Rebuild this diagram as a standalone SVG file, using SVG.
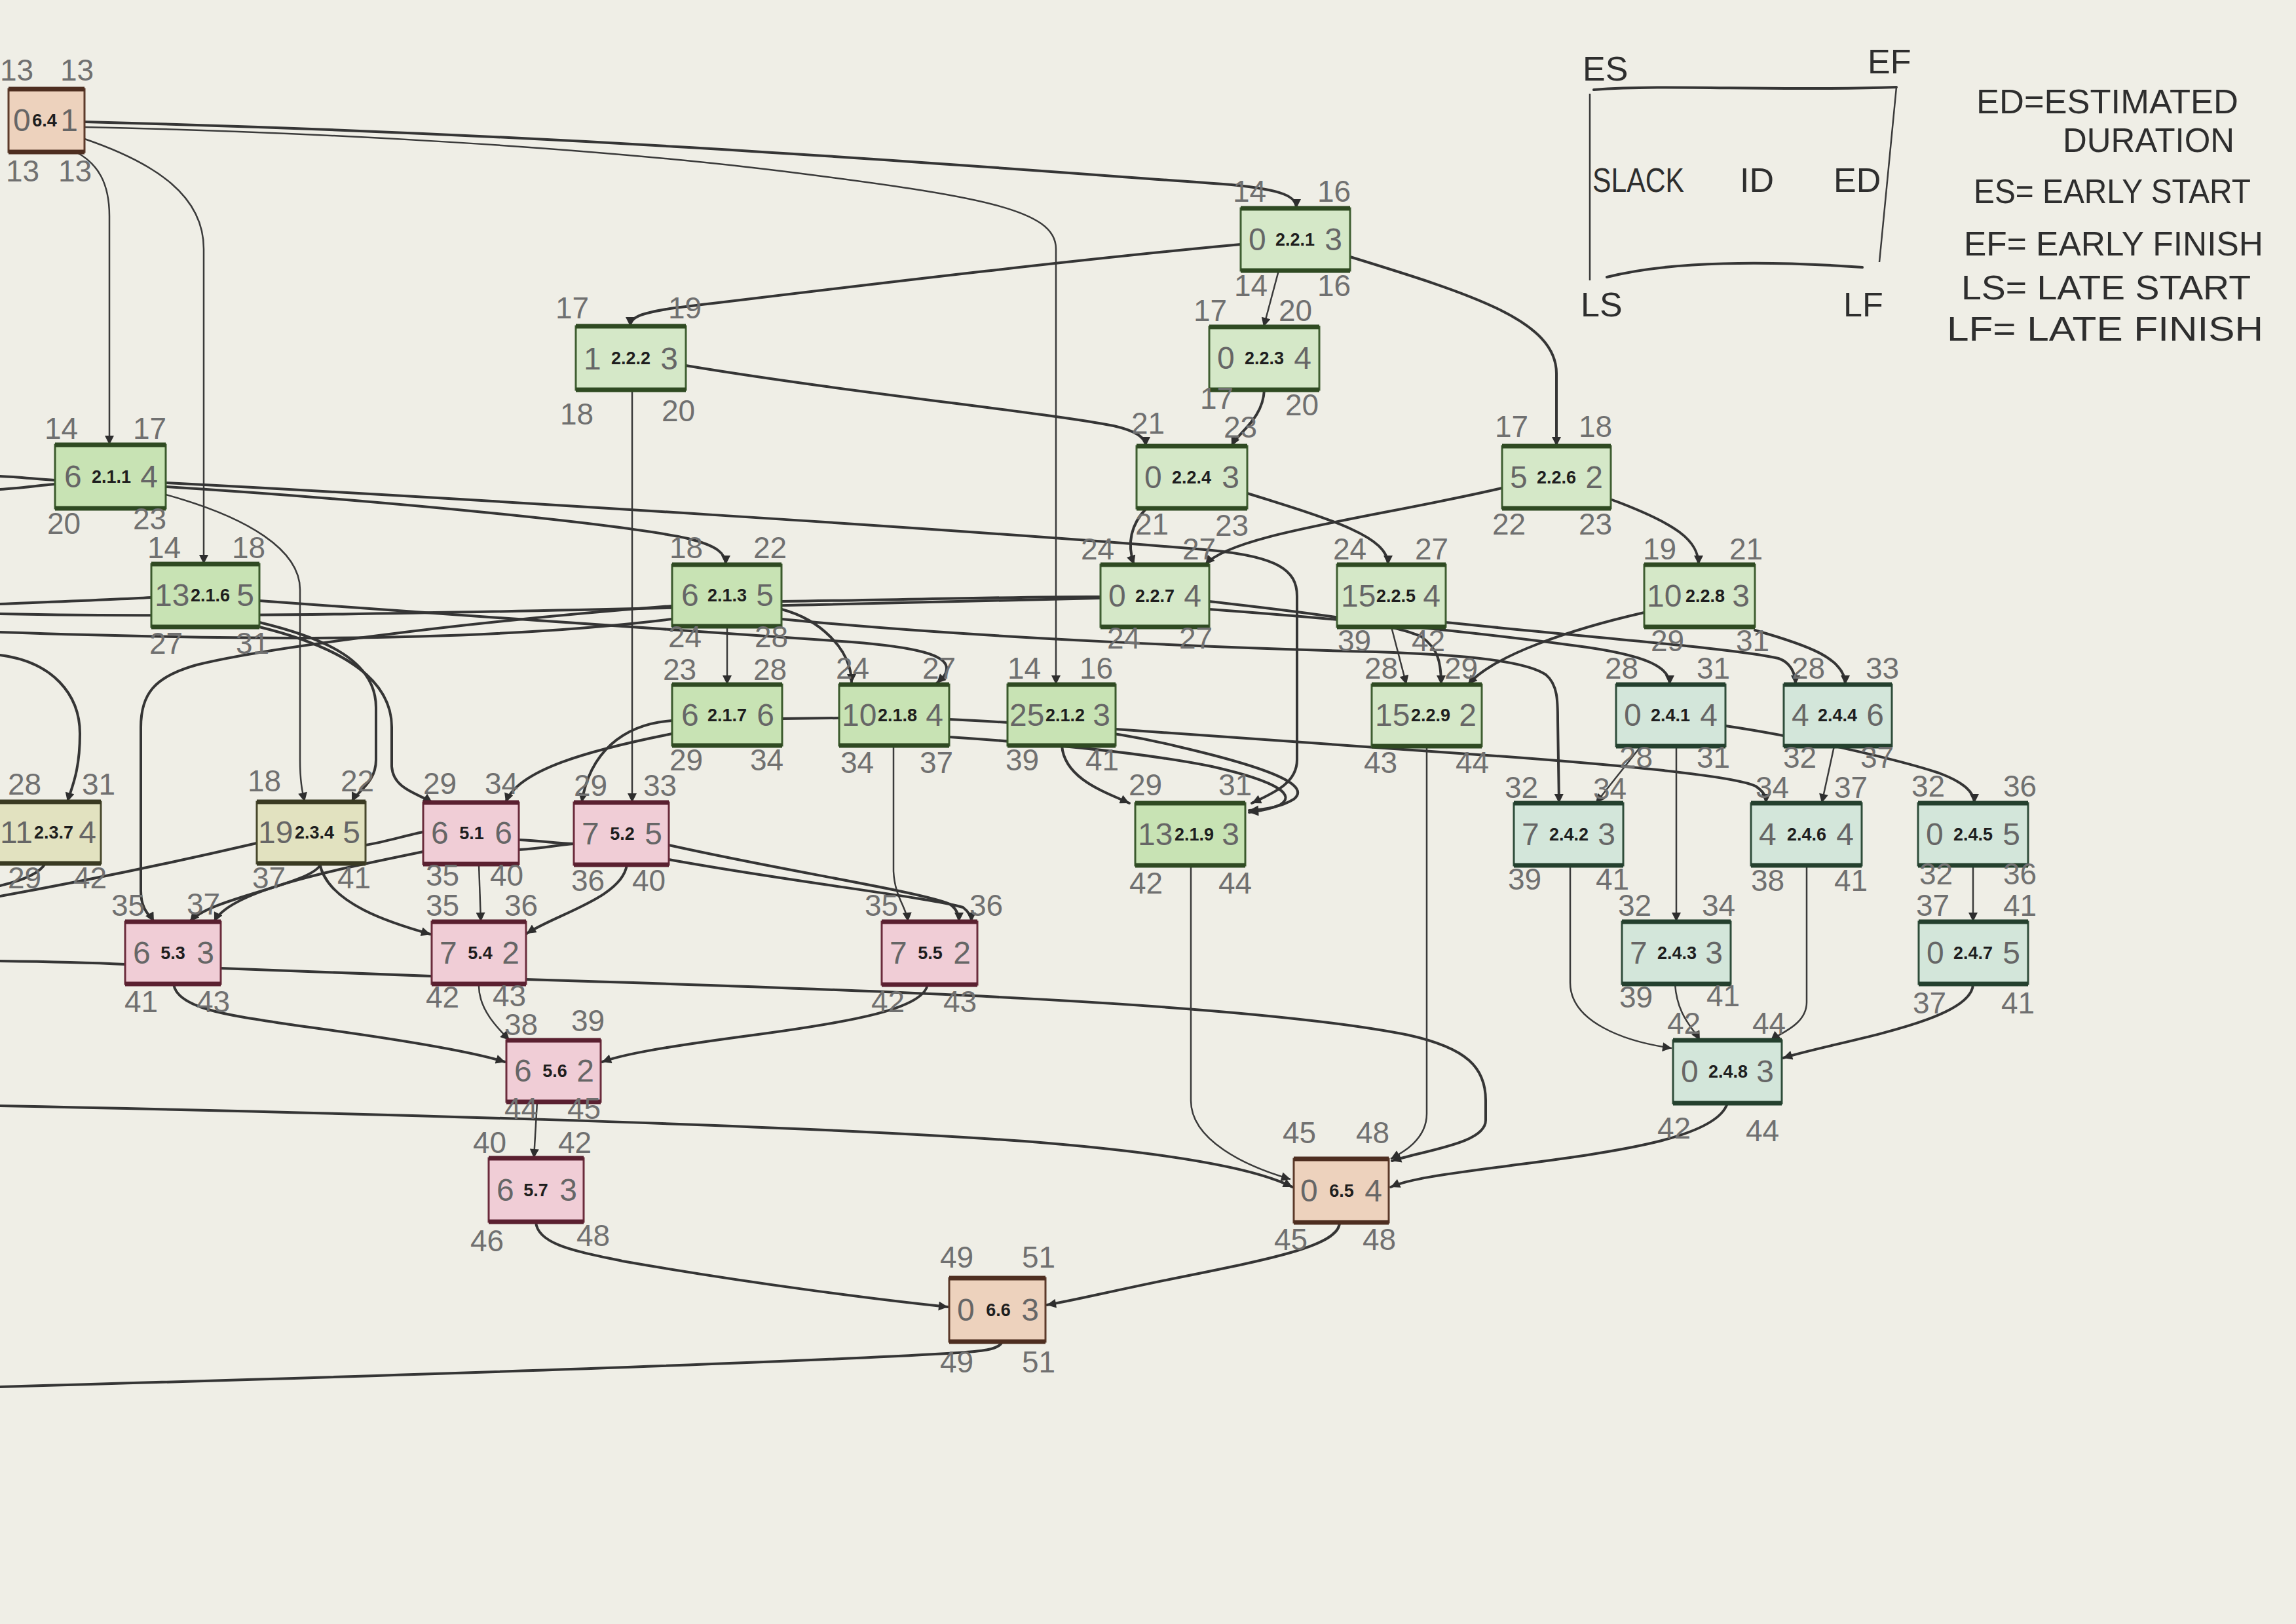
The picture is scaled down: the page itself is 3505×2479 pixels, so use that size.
<svg xmlns="http://www.w3.org/2000/svg" width="3505" height="2479" viewBox="0 0 3505 2479">
<defs>
<marker id="ah" viewBox="0 0 10 10" refX="10" refY="5" markerWidth="16" markerHeight="14" markerUnits="userSpaceOnUse" orient="auto"><path d="M0,0 L10,5 L0,10 z" fill="#2e2e2e"/></marker>
<style>
.c{fill:none;stroke:#353535;stroke-width:4;stroke-linecap:round}
.t{fill:none;stroke:#3a3a3a;stroke-width:2.5}
.hw{font-family:"Liberation Sans Narrow","Liberation Sans",sans-serif;font-size:46px;fill:#707070}
.in{font-family:"Liberation Sans Narrow","Liberation Sans",sans-serif;font-size:48px;fill:#666666}
.id{font-family:"Liberation Sans",Arial,sans-serif;font-size:27px;font-weight:bold;fill:#1e1e1e;text-anchor:middle}
.end{text-anchor:end}
.lg{font-family:"Liberation Sans Narrow","Liberation Sans",sans-serif;font-size:52px;fill:#2e2e2e}
.g21 rect{fill:#c8e3b4;stroke:#3b5a2c;stroke-width:3}
.g22 rect{fill:#d5e8c8;stroke:#3f5e31;stroke-width:3}
.g23 rect{fill:#e2e2c0;stroke:#48482c;stroke-width:3}
.g24 rect{fill:#d3e6da;stroke:#2f4d3a;stroke-width:3}
.g5 rect{fill:#f0cdd6;stroke:#6b2c3c;stroke-width:3}
.g6 rect{fill:#edd2bd;stroke:#5c3a2a;stroke-width:3}
.g21 path.b,.g22 path.b{stroke:#2f4a22;stroke-width:7;fill:none}
.g23 path.b{stroke:#3a3a22;stroke-width:7;fill:none}
.g24 path.b{stroke:#24402e;stroke-width:7;fill:none}
.g5 path.b{stroke:#5a2030;stroke-width:7;fill:none}
.g6 path.b{stroke:#4e2e20;stroke-width:7;fill:none}
</style>
</defs>
<rect x="0" y="0" width="3505" height="2479" fill="#efeee6"/>

<g id="legend">
<path d="M2433,137 C2550,128 2700,140 2895,133" class="c" stroke-width="5"/>
<path d="M2427,143 L2427,428" class="t" stroke-width="3.5"/>
<path d="M2895,133 L2869,400" class="t" stroke-width="3.5"/>
<path d="M2453,423 C2550,398 2700,398 2843,408" class="c" stroke-width="5"/>
<text class="lg" x="2416" y="123">ES</text>
<text class="lg" x="2851" y="112">EF</text>
<text class="lg" x="2431" y="293" textLength="140" lengthAdjust="spacingAndGlyphs">SLACK</text>
<text class="lg" x="2656" y="293">ID</text>
<text class="lg" x="2799" y="293">ED</text>
<text class="lg" x="2413" y="483">LS</text>
<text class="lg" x="2814" y="483">LF</text>
<text class="lg" x="3017" y="173" textLength="400" lengthAdjust="spacingAndGlyphs">ED=ESTIMATED</text>
<text class="lg" x="3149" y="232" textLength="262" lengthAdjust="spacingAndGlyphs">DURATION</text>
<text class="lg" x="3013" y="310" textLength="423" lengthAdjust="spacingAndGlyphs">ES= EARLY START</text>
<text class="lg" x="2998" y="390" textLength="457" lengthAdjust="spacingAndGlyphs">EF= EARLY FINISH</text>
<text class="lg" x="2994" y="457" textLength="442" lengthAdjust="spacingAndGlyphs">LS= LATE START</text>
<text class="lg" x="2972" y="520" textLength="483" lengthAdjust="spacingAndGlyphs">LF= LATE FINISH</text>
</g>

<g id="connectors">
<path class="c" marker-end="url(#ah)" d="M129,186 C900,205 1500,255 1880,282 C1960,290 1979,300 1979,318"/>
<path class="t" marker-end="url(#ah)" d="M129,194 C500,202 900,225 1200,262 C1500,300 1612,320 1612,380 L1612,1045"/>
<path class="t" marker-end="url(#ah)" d="M116,232 C150,250 167,280 167,330 L167,679"/>
<path class="t" marker-end="url(#ah)" d="M129,212 C240,250 311,300 311,380 L311,861"/>
<path class="c" marker-end="url(#ah)" d="M1894,373 C1600,400 1200,450 1030,470 C975,478 962,485 962,498"/>
<path class="t" marker-end="url(#ah)" d="M1952,413 L1929,499"/>
<path class="c" marker-end="url(#ah)" d="M2061,392 C2250,450 2376,490 2376,570 L2376,681"/>
<path class="c" marker-end="url(#ah)" d="M1047,558 C1300,600 1600,630 1700,650 C1735,658 1749,668 1749,681"/>
<path class="t" marker-end="url(#ah)" d="M965,595 L965,1225"/>
<path class="c" marker-end="url(#ah)" d="M1930,595 C1928,640 1890,660 1880,681"/>
<path class="c" marker-end="url(#ah)" d="M1750,776 C1722,805 1722,835 1731,862"/>
<path class="c" marker-end="url(#ah)" d="M1904,753 C2040,795 2119,820 2119,862"/>
<path class="c" marker-end="url(#ah)" d="M2293,745 C2100,790 1880,815 1840,862"/>
<path class="c" marker-end="url(#ah)" d="M2461,763 C2560,800 2593,825 2593,862"/>
<path class="c" marker-end="url(#ah)" d="M1846,918 C1950,930 2120,948 2170,972 C2195,990 2200,1010 2200,1045"/>
<path class="c" marker-end="url(#ah)" d="M1846,930 C2050,945 2250,965 2400,985 C2520,1000 2549,1020 2549,1045"/>
<path class="c" marker-end="url(#ah)" d="M2207,950 C2450,975 2650,990 2715,1005 C2735,1012 2741,1030 2741,1045"/>
<path class="t" marker-end="url(#ah)" d="M2124,957 L2147,1045"/>
<path class="c" marker-end="url(#ah)" d="M2510,935 C2400,960 2280,1000 2241,1045"/>
<path class="c" marker-end="url(#ah)" d="M2679,962 C2760,985 2817,1005 2817,1045"/>
<path class="c" marker-end="url(#ah)" d="M253,743 C600,765 950,800 1050,822 C1095,833 1108,845 1108,862"/>
<path class="c" marker-end="url(#ah)" d="M253,737 C700,760 1500,810 1850,840 C1950,850 1980,870 1980,910 L1980,1160 C1980,1195 1945,1210 1911,1226"/>
<path class="t" marker-end="url(#ah)" d="M253,755 C380,790 458,840 458,900 L458,1160 C458,1195 462,1210 465,1224"/>
<path class="t" marker-end="url(#ah)" d="M1110,956 L1110,1045"/>
<path class="c" marker-end="url(#ah)" d="M1193,930 C1250,945 1300,990 1300,1043"/>
<path class="c" d="M1194,1097 L1281,1096"/>
<path class="c" marker-end="url(#ah)" d="M1026,1120 C900,1145 790,1175 772,1225"/>
<path class="c" marker-end="url(#ah)" d="M1026,1100 C950,1105 900,1150 888,1225"/>
<path class="t" marker-end="url(#ah)" d="M1364,1138 L1364,1330 C1366,1370 1384,1385 1386,1407"/>
<path class="c" marker-end="url(#ah)" d="M1449,1098 C1600,1105 1700,1115 1800,1140 C1950,1175 2000,1200 1975,1220 C1955,1232 1930,1236 1907,1237"/>
<path class="c" marker-end="url(#ah)" d="M1449,1125 C1600,1135 1750,1150 1850,1170 C1960,1195 1975,1215 1955,1228 C1940,1235 1925,1238 1907,1240"/>
<path class="c" marker-end="url(#ah)" d="M1621,1138 C1625,1190 1690,1210 1724,1226"/>
<path class="c" marker-end="url(#ah)" d="M1703,1113 C1900,1125 2100,1140 2300,1155 C2500,1170 2650,1185 2680,1200 C2692,1208 2696,1215 2696,1226"/>
<path class="c" marker-end="url(#ah)" d="M1193,945 C1500,975 1900,990 2100,995 C2250,1000 2330,1010 2360,1030 C2378,1045 2378,1070 2378,1100 L2380,1226"/>
<path class="c" marker-end="url(#ah)" d="M396,917 C700,940 1100,965 1300,980 C1400,988 1445,1000 1445,1020 C1445,1032 1435,1038 1430,1043"/>
<path class="c" marker-end="url(#ah)" d="M396,950 C500,975 574,1010 574,1080 L574,1160 C574,1195 545,1208 537,1224"/>
<path class="c" marker-end="url(#ah)" d="M396,957 C530,990 598,1040 598,1110 L598,1170 C600,1205 640,1212 660,1225"/>
<path class="c" marker-end="url(#ah)" d="M1026,925 C700,950 400,990 300,1015 C235,1033 215,1060 215,1110 L215,1360 C215,1390 230,1398 235,1407"/>
<path class="c" d="M1193,918 C1400,915 1600,910 1680,911"/>
<path class="c" d="M0,937 C400,945 900,930 1250,923 C1450,918 1600,914 1680,913"/>
<path class="c" d="M0,965 C300,975 700,985 1026,945"/>
<path class="c" marker-end="url(#ah)" d="M490,1318 C480,1350 320,1370 290,1407"/>
<path class="c" marker-end="url(#ah)" d="M646,1300 C500,1330 350,1360 327,1407"/>
<path class="c" marker-end="url(#ah)" d="M488,1318 C500,1380 600,1410 657,1426"/>
<path class="t" marker-end="url(#ah)" d="M731,1319 L734,1407"/>
<path class="c" marker-end="url(#ah)" d="M957,1320 C950,1370 850,1395 804,1425"/>
<path class="c" d="M792,1282 C830,1284 850,1287 876,1288"/>
<path class="c" d="M792,1297 C830,1295 850,1290 876,1288"/>
<path class="c" marker-end="url(#ah)" d="M1021,1290 C1200,1330 1400,1360 1450,1380 Q1464,1390 1464,1407"/>
<path class="c" marker-end="url(#ah)" d="M1021,1312 C1200,1345 1420,1370 1470,1385 Q1483,1395 1483,1407"/>
<path class="c" marker-end="url(#ah)" d="M337,1478 C500,1485 650,1490 803,1495 C1300,1510 1900,1530 2150,1580 C2240,1600 2268,1630 2268,1680 L2268,1710 C2268,1745 2180,1755 2125,1772"/>
<path class="t" marker-end="url(#ah)" d="M1818,1321 L1818,1680 C1818,1740 1900,1780 1970,1800"/>
<path class="t" marker-end="url(#ah)" d="M2178,1139 L2178,1700 C2178,1740 2140,1760 2123,1769"/>
<path class="c" marker-end="url(#ah)" d="M0,1688 C600,1700 1300,1720 1600,1745 C1800,1762 1920,1785 1973,1812"/>
<path class="c" marker-end="url(#ah)" d="M2637,1684 C2620,1740 2450,1760 2300,1780 C2200,1793 2150,1800 2123,1812"/>
<path class="c" marker-end="url(#ah)" d="M2045,1866 C2045,1900 1950,1920 1800,1950 C1700,1970 1640,1985 1598,1992"/>
<path class="c" marker-end="url(#ah)" d="M818,1865 C820,1900 880,1910 950,1925 C1150,1960 1350,1985 1447,1995"/>
<path class="c" d="M1530,2048 C1525,2062 1490,2063 1446,2066 C1200,2080 600,2100 0,2117"/>
<path class="c" marker-end="url(#ah)" d="M265,1502 C270,1540 350,1550 450,1565 C600,1585 720,1605 771,1621"/>
<path class="t" marker-end="url(#ah)" d="M731,1503 C730,1540 760,1570 778,1588"/>
<path class="c" marker-end="url(#ah)" d="M1416,1503 C1410,1540 1300,1560 1150,1580 C1000,1600 950,1610 919,1621"/>
<path class="t" marker-end="url(#ah)" d="M820,1682 L815,1768"/>
<path class="c" d="M0,1467 C80,1468 150,1470 191,1472"/>
<path class="c" d="M0,727 C30,728 60,732 84,733"/>
<path class="c" d="M0,747 C30,745 60,741 84,739"/>
<path class="c" d="M0,922 C100,918 180,915 231,912"/>
<path class="c" d="M69,1318 C60,1335 30,1345 0,1352"/>
<path class="c" d="M392,1287 C250,1320 100,1350 0,1368"/>
<path class="c" marker-end="url(#ah)" d="M0,1000 C80,1010 122,1060 122,1120 C122,1180 108,1205 103,1224"/>
<path class="c" d="M558,1290 C590,1285 620,1275 646,1270"/>
<path class="t" marker-end="url(#ah)" d="M2505,1139 L2436,1226"/>
<path class="t" marker-end="url(#ah)" d="M2559,1139 L2559,1407"/>
<path class="c" marker-end="url(#ah)" d="M2634,1108 C2750,1125 2900,1160 2960,1180 C3000,1195 3014,1210 3014,1226"/>
<path class="t" marker-end="url(#ah)" d="M2800,1139 L2781,1226"/>
<path class="t" marker-end="url(#ah)" d="M2397,1321 L2397,1500 C2397,1560 2480,1590 2552,1600"/>
<path class="t" marker-end="url(#ah)" d="M2557,1502 C2560,1550 2585,1570 2595,1588"/>
<path class="t" marker-end="url(#ah)" d="M2758,1321 L2758,1530 C2758,1565 2715,1578 2703,1588"/>
<path class="t" marker-end="url(#ah)" d="M3012,1321 L3012,1407"/>
<path class="c" marker-end="url(#ah)" d="M3012,1502 C3012,1560 2800,1590 2722,1615"/>
</g>

<g id="n-6-4" class="g6"><rect x="13" y="136" width="116" height="96"/><path class="b" d="M13,136 H129 M13,232 H129"/>
<text class="in" x="20" y="200">0</text><text class="id" x="68" y="193">6.4</text><text class="in end" x="119" y="200">1</text>
<text class="hw" x="0" y="123">13</text><text class="hw" x="92" y="123">13</text><text class="hw" x="9" y="277">13</text><text class="hw" x="89" y="277">13</text></g>

<g id="n-2-2-1" class="g22"><rect x="1894" y="318" width="167" height="95"/><path class="b" d="M1894,318 H2061 M1894,413 H2061"/>
<text class="in" x="1906" y="382">0</text><text class="id" x="1977" y="375">2.2.1</text><text class="in end" x="2049" y="382">3</text>
<text class="hw" x="1882" y="308">14</text><text class="hw" x="2011" y="308">16</text><text class="hw" x="1884" y="452">14</text><text class="hw" x="2011" y="452">16</text></g>

<g id="n-2-2-2" class="g22"><rect x="879" y="498" width="168" height="97"/><path class="b" d="M879,498 H1047 M879,595 H1047"/>
<text class="in" x="891" y="564" font-size="54">1</text><text class="id" x="963" y="556">2.2.2</text><text class="in end" x="1035" y="564">3</text>
<text class="hw" x="848" y="486" font-size="60">17</text><text class="hw" x="1020" y="486" font-size="60">19</text><text class="hw" x="855" y="648" font-size="58">18</text><text class="hw" x="1010" y="643" font-size="58">20</text></g>

<g id="n-2-2-3" class="g22"><rect x="1846" y="499" width="168" height="96"/><path class="b" d="M1846,499 H2014 M1846,595 H2014"/>
<text class="in" x="1858" y="563">0</text><text class="id" x="1930" y="556">2.2.3</text><text class="in end" x="2002" y="563">4</text>
<text class="hw" x="1822" y="490">17</text><text class="hw" x="1952" y="490">20</text><text class="hw" x="1832" y="624" font-size="32">17</text><text class="hw" x="1962" y="634">20</text></g>

<g id="n-2-2-4" class="g22"><rect x="1735" y="681" width="169" height="95"/><path class="b" d="M1735,681 H1904 M1735,776 H1904"/>
<text class="in" x="1747" y="745">0</text><text class="id" x="1819" y="738">2.2.4</text><text class="in end" x="1892" y="745">3</text>
<text class="hw" x="1727" y="662">21</text><text class="hw" x="1868" y="668">23</text><text class="hw" x="1733" y="816">21</text><text class="hw" x="1855" y="818">23</text></g>

<g id="n-2-2-6" class="g22"><rect x="2293" y="681" width="166" height="95"/><path class="b" d="M2293,681 H2459 M2293,776 H2459"/>
<text class="in" x="2305" y="745">5</text><text class="id" x="2376" y="738">2.2.6</text><text class="in end" x="2447" y="745">2</text>
<text class="hw" x="2282" y="667">17</text><text class="hw" x="2410" y="667">18</text><text class="hw" x="2278" y="816">22</text><text class="hw" x="2410" y="816">23</text></g>

<g id="n-2-2-7" class="g22"><rect x="1680" y="862" width="166" height="95"/><path class="b" d="M1680,862 H1846 M1680,957 H1846"/>
<text class="in" x="1692" y="926">0</text><text class="id" x="1763" y="919">2.2.7</text><text class="in end" x="1834" y="926">4</text>
<text class="hw" x="1650" y="854">24</text><text class="hw" x="1805" y="854">27</text><text class="hw" x="1690" y="990" font-size="40">24</text><text class="hw" x="1800" y="990" font-size="40">27</text></g>

<g id="n-2-2-5" class="g22"><rect x="2041" y="862" width="166" height="95"/><path class="b" d="M2041,862 H2207 M2041,957 H2207"/>
<text class="in" x="2047" y="926">15</text><text class="id" x="2131" y="919">2.2.5</text><text class="in end" x="2199" y="926">4</text>
<text class="hw" x="2035" y="854">24</text><text class="hw" x="2160" y="854">27</text><text class="hw" x="2042" y="994">39</text><text class="hw" x="2155" y="994">42</text></g>

<g id="n-2-2-8" class="g22"><rect x="2510" y="862" width="169" height="95"/><path class="b" d="M2510,862 H2679 M2510,957 H2679"/>
<text class="in" x="2514" y="926">10</text><text class="id" x="2603" y="919">2.2.8</text><text class="in end" x="2671" y="926">3</text>
<text class="hw" x="2508" y="854">19</text><text class="hw" x="2640" y="854">21</text><text class="hw" x="2520" y="994">29</text><text class="hw" x="2650" y="994">31</text></g>

<g id="n-2-2-9" class="g22"><rect x="2094" y="1045" width="168" height="94"/><path class="b" d="M2094,1045 H2262 M2094,1139 H2262"/>
<text class="in" x="2099" y="1108">15</text><text class="id" x="2184" y="1101">2.2.9</text><text class="in end" x="2254" y="1108">2</text>
<text class="hw" x="2083" y="1036">28</text><text class="hw" x="2205" y="1036">29</text><text class="hw" x="2082" y="1180">43</text><text class="hw" x="2222" y="1180">44</text></g>

<g id="n-2-1-1" class="g21"><rect x="84" y="679" width="169" height="97"/><path class="b" d="M84,679 H253 M84,776 H253"/>
<text class="in" x="98" y="744">6</text><text class="id" x="170" y="737">2.1.1</text><text class="in end" x="241" y="744">4</text>
<text class="hw" x="68" y="670">14</text><text class="hw" x="203" y="670">17</text><text class="hw" x="72" y="815">20</text><text class="hw" x="203" y="808">23</text></g>

<g id="n-2-1-6" class="g21"><rect x="231" y="861" width="165" height="96"/><path class="b" d="M231,861 H396 M231,957 H396"/>
<text class="in" x="236" y="925">13</text><text class="id" x="321" y="918">2.1.6</text><text class="in end" x="388" y="925">5</text>
<text class="hw" x="225" y="852">14</text><text class="hw" x="354" y="852">18</text><text class="hw" x="228" y="998">27</text><text class="hw" x="360" y="998">31</text></g>

<g id="n-2-1-3" class="g21"><rect x="1026" y="862" width="167" height="94"/><path class="b" d="M1026,862 H1193 M1026,956 H1193"/>
<text class="in" x="1040" y="925">6</text><text class="id" x="1110" y="918">2.1.3</text><text class="in end" x="1181" y="925">5</text>
<text class="hw" x="1020" y="988" font-size="38">24</text><text class="hw" x="1152" y="988" font-size="38">28</text><text class="hw" x="1022" y="852">18</text><text class="hw" x="1150" y="852">22</text></g>

<g id="n-2-1-7" class="g21"><rect x="1026" y="1045" width="168" height="93"/><path class="b" d="M1026,1045 H1194 M1026,1138 H1194"/>
<text class="in" x="1040" y="1108">6</text><text class="id" x="1110" y="1101">2.1.7</text><text class="in end" x="1182" y="1108">6</text>
<text class="hw" x="1012" y="1038" font-size="40">23</text><text class="hw" x="1150" y="1038" font-size="40">28</text><text class="hw" x="1022" y="1176">29</text><text class="hw" x="1145" y="1176">34</text></g>

<g id="n-2-1-8" class="g21"><rect x="1281" y="1045" width="168" height="93"/><path class="b" d="M1281,1045 H1449 M1281,1138 H1449"/>
<text class="in" x="1285" y="1108">10</text><text class="id" x="1370" y="1101">2.1.8</text><text class="in end" x="1440" y="1108">4</text>
<text class="hw" x="1276" y="1036">24</text><text class="hw" x="1408" y="1036">27</text><text class="hw" x="1283" y="1180">34</text><text class="hw" x="1404" y="1180">37</text></g>

<g id="n-2-1-2" class="g21"><rect x="1538" y="1045" width="165" height="93"/><path class="b" d="M1538,1045 H1703 M1538,1138 H1703"/>
<text class="in" x="1541" y="1108">25</text><text class="id" x="1626" y="1101">2.1.2</text><text class="in end" x="1695" y="1108">3</text>
<text class="hw" x="1538" y="1036" font-size="42">14</text><text class="hw" x="1648" y="1036" font-size="42">16</text><text class="hw" x="1535" y="1176">39</text><text class="hw" x="1657" y="1176">41</text></g>

<g id="n-2-1-9" class="g21"><rect x="1733" y="1226" width="168" height="95"/><path class="b" d="M1733,1226 H1901 M1733,1321 H1901"/>
<text class="in" x="1737" y="1290">13</text><text class="id" x="1823" y="1283">2.1.9</text><text class="in end" x="1892" y="1290">3</text>
<text class="hw" x="1723" y="1214">29</text><text class="hw" x="1860" y="1214">31</text><text class="hw" x="1724" y="1364">42</text><text class="hw" x="1860" y="1364">44</text></g>

<g id="n-2-3-7" class="g23"><rect x="-13" y="1224" width="167" height="94"/><path class="b" d="M-13,1224 H154 M-13,1318 H154"/>
<text class="in" x="0" y="1287" font-size="42">11</text><text class="id" x="82" y="1280">2.3.7</text><text class="in end" x="147" y="1287">4</text>
<text class="hw" x="12" y="1213">28</text><text class="hw" x="125" y="1213">31</text><text class="hw" x="12" y="1356">29</text><text class="hw" x="112" y="1356">42</text></g>

<g id="n-2-3-4" class="g23"><rect x="392" y="1224" width="166" height="94"/><path class="b" d="M392,1224 H558 M392,1318 H558"/>
<text class="in" x="394" y="1287">19</text><text class="id" x="480" y="1280">2.3.4</text><text class="in end" x="550" y="1287">5</text>
<text class="hw" x="378" y="1208">18</text><text class="hw" x="520" y="1208">22</text><text class="hw" x="385" y="1356">37</text><text class="hw" x="515" y="1356">41</text></g>

<g id="n-2-4-1" class="g24"><rect x="2467" y="1045" width="167" height="94"/><path class="b" d="M2467,1045 H2634 M2467,1139 H2634"/>
<text class="in" x="2479" y="1108">0</text><text class="id" x="2550" y="1101">2.4.1</text><text class="in end" x="2622" y="1108">4</text>
<text class="hw" x="2450" y="1036">28</text><text class="hw" x="2590" y="1036">31</text><text class="hw" x="2472" y="1172" font-size="40">28</text><text class="hw" x="2590" y="1172" font-size="40">31</text></g>

<g id="n-2-4-4" class="g24"><rect x="2723" y="1045" width="165" height="94"/><path class="b" d="M2723,1045 H2888 M2723,1139 H2888"/>
<text class="in" x="2735" y="1108">4</text><text class="id" x="2805" y="1101">2.4.4</text><text class="in end" x="2876" y="1108">6</text>
<text class="hw" x="2735" y="1036">28</text><text class="hw" x="2848" y="1036">33</text><text class="hw" x="2722" y="1172" font-size="40">32</text><text class="hw" x="2840" y="1172" font-size="40">37</text></g>

<g id="n-2-4-2" class="g24"><rect x="2311" y="1226" width="167" height="95"/><path class="b" d="M2311,1226 H2478 M2311,1321 H2478"/>
<text class="in" x="2323" y="1290">7</text><text class="id" x="2395" y="1283">2.4.2</text><text class="in end" x="2466" y="1290">3</text>
<text class="hw" x="2297" y="1218">32</text><text class="hw" x="2432" y="1220">34</text><text class="hw" x="2302" y="1358">39</text><text class="hw" x="2436" y="1358">41</text></g>

<g id="n-2-4-6" class="g24"><rect x="2673" y="1226" width="169" height="95"/><path class="b" d="M2673,1226 H2842 M2673,1321 H2842"/>
<text class="in" x="2685" y="1290">4</text><text class="id" x="2758" y="1283">2.4.6</text><text class="in end" x="2830" y="1290">4</text>
<text class="hw" x="2680" y="1218">34</text><text class="hw" x="2800" y="1218">37</text><text class="hw" x="2673" y="1360">38</text><text class="hw" x="2800" y="1360">41</text></g>

<g id="n-2-4-5" class="g24"><rect x="2928" y="1226" width="168" height="95"/><path class="b" d="M2928,1226 H3096 M2928,1321 H3096"/>
<text class="in" x="2940" y="1290">0</text><text class="id" x="3012" y="1283">2.4.5</text><text class="in end" x="3084" y="1290">5</text>
<text class="hw" x="2918" y="1216">32</text><text class="hw" x="3058" y="1216">36</text><text class="hw" x="2930" y="1350" font-size="32">32</text><text class="hw" x="3058" y="1350" font-size="32">36</text></g>

<g id="n-2-4-3" class="g24"><rect x="2476" y="1407" width="166" height="95"/><path class="b" d="M2476,1407 H2642 M2476,1502 H2642"/>
<text class="in" x="2488" y="1471">7</text><text class="id" x="2560" y="1464">2.4.3</text><text class="in end" x="2630" y="1471">3</text>
<text class="hw" x="2470" y="1398">32</text><text class="hw" x="2598" y="1398">34</text><text class="hw" x="2472" y="1538">39</text><text class="hw" x="2605" y="1536">41</text></g>

<g id="n-2-4-7" class="g24"><rect x="2929" y="1407" width="167" height="95"/><path class="b" d="M2929,1407 H3096 M2929,1502 H3096"/>
<text class="in" x="2941" y="1471">0</text><text class="id" x="3012" y="1464">2.4.7</text><text class="in end" x="3084" y="1471">5</text>
<text class="hw" x="2925" y="1398">37</text><text class="hw" x="3058" y="1398">41</text><text class="hw" x="2920" y="1547">37</text><text class="hw" x="3055" y="1547">41</text></g>

<g id="n-2-4-8" class="g24"><rect x="2554" y="1588" width="166" height="96"/><path class="b" d="M2554,1588 H2720 M2554,1684 H2720"/>
<text class="in" x="2566" y="1652">0</text><text class="id" x="2638" y="1645">2.4.8</text><text class="in end" x="2708" y="1652">3</text>
<text class="hw" x="2545" y="1578">42</text><text class="hw" x="2675" y="1578">44</text><text class="hw" x="2530" y="1738">42</text><text class="hw" x="2665" y="1742">44</text></g>

<g id="n-5-1" class="g5"><rect x="646" y="1225" width="146" height="94"/><path class="b" d="M646,1225 H792 M646,1319 H792"/>
<text class="in" x="658" y="1288">6</text><text class="id" x="720" y="1281">5.1</text><text class="in end" x="782" y="1288">6</text>
<text class="hw" x="646" y="1212">29</text><text class="hw" x="740" y="1212">34</text><text class="hw" x="650" y="1352" font-size="38">35</text><text class="hw" x="748" y="1352" font-size="38">40</text></g>

<g id="n-5-2" class="g5"><rect x="876" y="1225" width="145" height="95"/><path class="b" d="M876,1225 H1021 M876,1320 H1021"/>
<text class="in" x="888" y="1289">7</text><text class="id" x="950" y="1282">5.2</text><text class="in end" x="1011" y="1289">5</text>
<text class="hw" x="876" y="1215" font-size="38">29</text><text class="hw" x="982" y="1215" font-size="38">33</text><text class="hw" x="872" y="1360">36</text><text class="hw" x="965" y="1360">40</text></g>

<g id="n-5-3" class="g5"><rect x="191" y="1407" width="146" height="95"/><path class="b" d="M191,1407 H337 M191,1502 H337"/>
<text class="in" x="203" y="1471">6</text><text class="id" x="264" y="1464">5.3</text><text class="in end" x="327" y="1471">3</text>
<text class="hw" x="170" y="1398">35</text><text class="hw" x="285" y="1396">37</text><text class="hw" x="190" y="1545">41</text><text class="hw" x="300" y="1545">43</text></g>

<g id="n-5-4" class="g5"><rect x="659" y="1407" width="144" height="95"/><path class="b" d="M659,1407 H803 M659,1502 H803"/>
<text class="in" x="671" y="1471">7</text><text class="id" x="733" y="1464">5.4</text><text class="in end" x="793" y="1471">2</text>
<text class="hw" x="650" y="1398">35</text><text class="hw" x="770" y="1398">36</text><text class="hw" x="650" y="1538">42</text><text class="hw" x="752" y="1536">43</text></g>

<g id="n-5-5" class="g5"><rect x="1346" y="1407" width="146" height="96"/><path class="b" d="M1346,1407 H1492 M1346,1503 H1492"/>
<text class="in" x="1358" y="1471">7</text><text class="id" x="1420" y="1464">5.5</text><text class="in end" x="1482" y="1471">2</text>
<text class="hw" x="1320" y="1398">35</text><text class="hw" x="1480" y="1398">36</text><text class="hw" x="1330" y="1545">42</text><text class="hw" x="1440" y="1545">43</text></g>

<g id="n-5-6" class="g5"><rect x="773" y="1588" width="144" height="94"/><path class="b" d="M773,1588 H917 M773,1682 H917"/>
<text class="in" x="785" y="1651">6</text><text class="id" x="847" y="1644">5.6</text><text class="in end" x="907" y="1651">2</text>
<text class="hw" x="770" y="1580">38</text><text class="hw" x="872" y="1574">39</text><text class="hw" x="770" y="1708" font-size="34">44</text><text class="hw" x="866" y="1708" font-size="34">45</text></g>

<g id="n-5-7" class="g5"><rect x="746" y="1768" width="145" height="97"/><path class="b" d="M746,1768 H891 M746,1865 H891"/>
<text class="in" x="758" y="1833">6</text><text class="id" x="818" y="1826">5.7</text><text class="in end" x="881" y="1833">3</text>
<text class="hw" x="722" y="1760" font-size="44">40</text><text class="hw" x="852" y="1760" font-size="44">42</text><text class="hw" x="718" y="1910">46</text><text class="hw" x="880" y="1902">48</text></g>

<g id="n-6-5" class="g6"><rect x="1975" y="1769" width="145" height="97"/><path class="b" d="M1975,1769 H2120 M1975,1866 H2120"/>
<text class="in" x="1985" y="1834">0</text><text class="id" x="2048" y="1827">6.5</text><text class="in end" x="2110" y="1834">4</text>
<text class="hw" x="1958" y="1745">45</text><text class="hw" x="2070" y="1745">48</text><text class="hw" x="1945" y="1908">45</text><text class="hw" x="2080" y="1908">48</text></g>

<g id="n-6-6" class="g6"><rect x="1449" y="1951" width="147" height="97"/><path class="b" d="M1449,1951 H1596 M1449,2048 H1596"/>
<text class="in" x="1461" y="2016">0</text><text class="id" x="1524" y="2009">6.6</text><text class="in end" x="1586" y="2016">3</text>
<text class="hw" x="1435" y="1935">49</text><text class="hw" x="1560" y="1935">51</text><text class="hw" x="1435" y="2095">49</text><text class="hw" x="1560" y="2095">51</text></g>
</svg>
